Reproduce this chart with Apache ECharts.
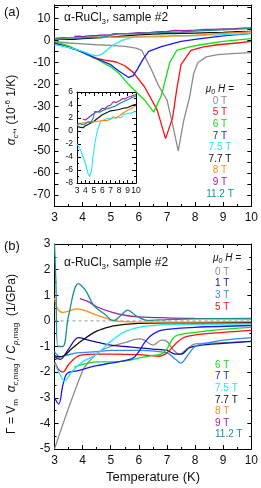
<!DOCTYPE html>
<html><head><meta charset="utf-8">
<script src="https://cdn.jsdelivr.net/npm/echarts@6/dist/echarts.min.js"></script>
<style>html,body{margin:0;padding:0;background:#fff}#c{width:261px;height:488px}</style>
</head><body><div id="c"></div>
<script>
// ---------- Panel (a): alpha_c* (1e-6 1/K) vs T (K) ----------
const a_0T  = [[3,-0.5],[3.5,-1.2],[4,-1.6],[4.5,-2],[5,-2.3],[5.5,-2.7],[5.9,-3.5],[6.1,-4.5],[6.4,-12],[6.7,-20.5],[7.0,-27],[7.2,-38],[7.4,-50],[7.6,-36],[7.8,-26],[7.95,-15],[8.1,-10],[8.4,-7.5],[8.8,-6.5],[9.3,-6],[10,-5.6]];
const a_5T  = [[3,-1.2],[3.5,-3],[4,-5.5],[4.4,-8],[4.8,-9],[5.2,-9.8],[5.5,-11.5],[5.8,-14.5],[6.2,-21],[6.65,-31.5],[6.95,-44.5],[7.2,-35],[7.35,-22],[7.5,-11],[7.85,-4.5],[8.3,-3],[8.8,-2],[9.5,-1.2],[10,-0.5]];
const a_6T  = [[3,-0.5],[3.5,-2.5],[4,-5.5],[4.5,-8.5],[5,-12],[5.3,-15],[5.6,-19.5],[6.2,-27],[6.53,-32.5],[6.8,-25],[7.1,-10],[7.35,-4.5],[7.8,-3],[8.2,-2],[9,-0.5],[10,0.8]];
const a_7T  = [[3,-1.3],[3.4,-2.8],[3.8,-4.3],[4.2,-6.5],[4.6,-8.8],[5.0,-11],[5.3,-14],[5.64,-16.8],[5.8,-16],[5.95,-13],[6.15,-8.5],[6.35,-5],[6.8,-2.8],[7.5,-0.5],[8.2,0.8],[9,2],[10,3.2]];
const a_75T = [[3,-2],[3.3,-2.6],[3.6,-3.5],[4.0,-5],[4.3,-6.5],[4.5,-7],[4.7,-6.2],[4.9,-4],[5.1,-2],[5.4,0],[5.8,1.5],[6.5,1.9],[7.5,2.0],[8.3,2.1],[8.5,2.6],[8.7,2.4],[9.2,2.7],[10,3.0]];
const a_77T = [[3,0.7],[3.3,0.6],[3.5,0.4],[3.7,0.5],[4,0.8],[4.5,1.1],[5,1.5],[5.5,2],[6,2.5],[6.5,2.8],[7,3.1],[7.5,3.2],[8,3.3],[8.5,3.5],[9,3.6],[9.5,3.9],[10,4.1]];
const a_8T  = [[3,1.0],[3.5,1.2],[4,1.3],[4.5,1.4],[5,1.4],[5.5,1.5],[6,1.6],[6.5,1.6],[7,1.8],[7.3,2.2],[7.6,2.0],[8,2.3],[8.5,2.8],[9,3.2],[9.5,3.5],[10,3.9]];
const a_9T  = [[3.7,1.8],[3.9,1.9],[4.0,1.7],[4.2,2.0],[4.5,2.2],[4.8,2.5],[5.0,2.4],[5.3,2.9],[5.6,3.0],[6,3.5],[6.3,3.4],[6.6,3.8],[7,4.0],[7.3,4.5],[7.6,4.4],[8,4.6],[8.4,5.0],[8.7,4.9],[9,5.2],[9.4,5.3],[9.7,5.5],[10,5.6]];
const a_112T= [[3,0.8],[3.3,1.2],[3.6,1.0],[4,1.1],[4.3,1.4],[4.6,1.3],[4.9,1.9],[5.1,3.0],[5.4,3.0],[5.7,2.9],[6,3.1],[6.5,3.4],[7,3.6],[7.5,3.8],[8,4.2],[8.5,4.5],[9,4.8],[9.5,5.1],[10,5.4]];

// ---------- Panel (b): Gruneisen ratio (1/GPa) vs T (K) ----------
const b_0T  = [[3,-5],[4,-1.95],[4.3,-1.5],[4.6,-1.2],[5,-1.0],[5.5,-0.85],[6,-0.7],[6.2,-0.75],[6.5,-0.95],[6.8,-0.75],[7,-0.8],[7.2,-1.1],[7.45,-1.3],[7.7,-1.1],[8,-0.9],[9,-0.85],[10,-0.8]];
const b_1T  = [[3,-1.4],[3.2,-1.5],[3.5,-1.1],[3.85,-0.65],[4.2,-0.75],[4.6,-0.85],[5,-0.95],[5.5,-1.0],[6,-1.05],[6.5,-1.1],[7,-1.15],[7.3,-1.3],[7.5,-1.3],[7.8,-1.05],[8.2,-0.95],[9,-0.88],[10,-0.8]];
const b_3T  = [[3,-1.2],[3.2,-1.4],[3.4,-1.35],[3.8,-1.25],[4.5,-1.2],[5,-1.15],[6,-1.15],[7,-1.25],[7.3,-1.5],[7.5,-1.65],[7.7,-1.4],[8,-1.0],[8.5,-0.85],[9,-0.75],[10,-0.65]];
const b_5T  = [[3,-1.6],[3.15,-1.9],[3.3,-2.0],[3.5,-1.7],[3.9,-1.35],[4.5,-1.3],[5,-1.3],[6,-1.32],[6.7,-1.38],[7,-1.25],[7.3,-0.9],[7.6,-0.65],[8,-0.55],[9,-0.45],[10,-0.37]];
const b_6T  = [[3.7,-1.8],[4,-1.7],[4.5,-1.6],[5,-1.6],[5.6,-1.55],[6,-1.45],[6.5,-1.35],[6.8,-1.3],[7.0,-1.1],[7.2,-0.7],[7.4,-0.55],[8,-0.45],[9,-0.33],[10,-0.25]];
const b_7T  = [[3,-3.0],[3.15,-3.25],[3.3,-2.5],[3.45,-2.05],[3.8,-1.95],[4.5,-1.75],[5,-1.65],[5.5,-1.55],[5.8,-1.45],[6.0,-1.2],[6.2,-0.85],[6.4,-0.6],[6.7,-0.4],[7,-0.33],[8,-0.25],[10,-0.18]];
const b_75T = [[3,-1.65],[3.2,-2.1],[3.35,-2.35],[3.6,-2.0],[4,-1.6],[4.5,-1.3],[5.0,-0.8],[5.5,-0.42],[6,-0.25],[6.5,-0.18],[7,-0.15],[10,-0.12]];
const b_77T = [[3,-1.35],[3.15,-1.4],[3.3,-1.38],[3.6,-1.1],[4,-0.75],[4.5,-0.4],[5,-0.22],[5.5,-0.14],[6,-0.1],[7,-0.08],[10,-0.07]];
const b_8T  = [[3,0.9],[3.1,0.5],[3.3,0.33],[3.5,0.38],[3.8,0.47],[4.1,0.4],[4.5,0.22],[5,0.05],[5.3,-0.02],[6,-0.05],[7,-0.05],[10,-0.03]];
const b_9T  = [[3.9,0.87],[4.2,0.75],[4.5,0.55],[5,0.35],[5.5,0.22],[6,0.16],[7,0.12],[8,0.1],[10,0.08]];
const b_112T= [[3,3.0],[3.05,1.5],[3.12,-1.0],[3.3,-1.0],[3.5,0.2],[3.85,1.45],[4.1,1.2],[4.4,0.6],[4.8,0.25],[5.1,0.0],[5.35,0.2],[5.6,0.42],[5.9,0.2],[6.3,0.02],[7,0.05],[8,0.08],[10,0.1]];
const zeroLine = [[3,0],[10,0]];

// ---------- labels ----------
const legendA = ['0 T','5 T','6 T','7 T','7.5 T','7.7 T','8 T','9 T','11.2 T'];
const legendB = ['0 T','1 T','3 T','5 T','6 T','7 T','7.5 T','7.7 T','8 T','9 T','11.2 T'];

const C = {g:'#8c8c8c', r:'#ff1010', gr:'#10e010', b:'#1818ff', cy:'#20e8ff', k:'#111111', o:'#ff8c1a', p:'#a020a8', t:'#1a9090', nv:'#12129a', lb:'#2a8cff'};
const colA = [C.g,C.r,C.gr,C.b,C.cy,C.k,C.o,C.p,C.t];
const colB = [C.g,C.nv,C.lb,C.r,C.gr,C.b,C.cy,C.k,C.o,C.p,C.t];
const FF = 'Liberation Sans, Arial, sans-serif';

const chart = echarts.init(document.getElementById('c'), null, {renderer:'canvas'});

function xAx(gi, pos, show, fs, margin){
  return {type:'value', gridIndex:gi, position:pos, min:3, max:10, interval:1,
    axisLine:{show:true, onZero:false, lineStyle:{color:'#000', width:1}},
    axisTick:{show:true, inside:true, length:4, lineStyle:{color:'#000'}},
    minorTick:{show:true, splitNumber:2, length:2, lineStyle:{color:'#000'}},
    axisLabel:{show:show, fontSize:fs, color:'#111', fontFamily:FF, margin:margin},
    splitLine:{show:false}};
}
function yAx(gi, pos, show, min, max, interval, fs, fmt, minor){
  return {type:'value', gridIndex:gi, position:pos, min:min, max:max, interval:interval,
    axisLine:{show:true, onZero:false, lineStyle:{color:'#000', width:1}},
    axisTick:{show:true, inside:true, length:4, lineStyle:{color:'#000'}},
    minorTick:{show:minor, splitNumber:2, length:2, lineStyle:{color:'#000'}},
    axisLabel:{show:show, fontSize:fs, color:'#111', fontFamily:FF, margin:4, formatter:fmt, showMaxLabel:true, showMinLabel:true},
    splitLine:{show:false}};
}
const fmtA = v => (Math.round(v)%10===0 && v<=10 && v>=-70) ? String(v) : '';
const fmtI = v => String(v);

const aSeries = [a_0T,a_5T,a_6T,a_7T,a_75T,a_77T,a_8T,a_9T,a_112T];
const bSeries = [b_0T,b_1T,b_3T,b_5T,b_6T,b_7T,b_75T,b_77T,b_8T,b_9T,b_112T];
const series = [];
aSeries.forEach((d,i)=>series.push({type:'line', xAxisIndex:0, yAxisIndex:0, data:d, showSymbol:false, lineStyle:{color:colA[i], width:1.3}, silent:true, animation:false}));
[4,5,6,7,8].forEach(i=>series.push({type:'line', xAxisIndex:2, yAxisIndex:2, data:aSeries[i], showSymbol:false, lineStyle:{color:colA[i], width:1.1}, silent:true, animation:false}));
series.push({type:'line', xAxisIndex:4, yAxisIndex:4, data:zeroLine, showSymbol:false, lineStyle:{color:'#999', width:1, type:[3,3]}, silent:true, animation:false});
bSeries.forEach((d,i)=>series.push({type:'line', xAxisIndex:4, yAxisIndex:4, data:d, smooth:0.35, showSymbol:false, lineStyle:{color:colB[i], width:1.3}, silent:true, animation:false}));

const graphics = [];
function txt(x,y,text,opts){ graphics.push(Object.assign({type:'text', x:x, y:y, silent:true, style:Object.assign({text:text, fontFamily:FF, fontSize:11, fill:'#111', align:'left', verticalAlign:'middle'}, opts||{})})); }
const richBase = {
  n:{fontSize:12, fontFamily:FF, fill:'#111', lineHeight:16},
  i:{fontSize:12, fontFamily:FF, fill:'#111', fontStyle:'italic', lineHeight:16},
  sub:{fontSize:8, fontFamily:FF, fill:'#111', verticalAlign:'bottom', lineHeight:9},
  subi:{fontSize:8, fontFamily:FF, fill:'#111', fontStyle:'italic', verticalAlign:'bottom', lineHeight:9},
  sup:{fontSize:8, fontFamily:FF, fill:'#111', verticalAlign:'top', lineHeight:9}
};
txt(4,12,'(a)',{fontSize:13});
txt(4,246,'(b)',{fontSize:13});
txt(64,18,'{n|α-RuCl}{sub|3}{n|, sample #2}',{rich:richBase});
txt(64,263,'{n|α-RuCl}{sub|3}{n|, sample #2}',{rich:richBase});
const richL = {i:{fontSize:10, fontFamily:FF, fill:'#111', fontStyle:'italic', lineHeight:13}, n:{fontSize:10, fontFamily:FF, fill:'#111', lineHeight:13}, s:{fontSize:7, fontFamily:FF, fill:'#111', fontStyle:'italic', verticalAlign:'bottom', lineHeight:8}};
txt(220,89,'{i|μ}{s|0}{i| H} {n|=}',{rich:richL, align:'center'});
legendA.forEach((t,i)=>txt(220,101+11.6*i,t,{fill:colA[i], fontSize:10, align:'center'}));
txt(213,258,'{i|μ}{s|0}{i| H} {n|=}',{rich:richL});
legendB.forEach((t,i)=>{ const y = i<4 ? 272+11.6*i : 365+11.6*(i-4); txt(215,y,t,{fill:colB[i], fontSize:10}); });
graphics.push({type:'text', x:12, y:110, rotation:Math.PI/2, silent:true, style:{text:'{i|α}{subi|c*}{n|, (10}{sup|-6}{n| 1/K)}', rich:richBase, align:'center', verticalAlign:'middle'}});
graphics.push({type:'text', x:12, y:354, rotation:Math.PI/2, silent:true, style:{text:'{n|Γ = V}{sub|m}{n|  }{i|α}{subi|c}{sub|,mag}{n| / }{i|C}{subi|p}{sub|,mag}{n|  (1/GPa)}', rich:richBase, align:'center', verticalAlign:'middle'}});
txt(153,477,'Temperature (K)',{fontSize:13, align:'center'});

chart.setOption({
  backgroundColor:'#fff',
  animation:false,
  grid:[
    {left:54.5, top:5, width:197.5, height:201, containLabel:false},
    {left:77, top:92, width:59, height:91, containLabel:false, show:true, backgroundColor:'#fff', borderWidth:0},
    {left:54.5, top:244, width:197.5, height:205, containLabel:false}
  ],
  xAxis:[
    xAx(0,'bottom',true,12,6), xAx(0,'top',false,12,6),
    Object.assign(xAx(1,'bottom',true,8.5,3),{axisTick:{show:true,inside:true,length:3,lineStyle:{color:'#000'}}}), xAx(1,'top',false,8,3),
    xAx(2,'bottom',true,12,6), xAx(2,'top',false,12,6)
  ],
  yAxis:[
    yAx(0,'left',true,-75,16,5,12,fmtA,false), yAx(0,'right',false,-75,16,5,12,fmtA,false),
    yAx(1,'left',true,-8,6,2,8.5,fmtI,true), yAx(1,'right',false,-8,6,2,8.5,fmtI,true),
    yAx(2,'left',true,-5,3,1,12,fmtI,true), yAx(2,'right',false,-5,3,1,12,fmtI,true)
  ],
  series:series,
  graphic:graphics
});
</script></body></html>
